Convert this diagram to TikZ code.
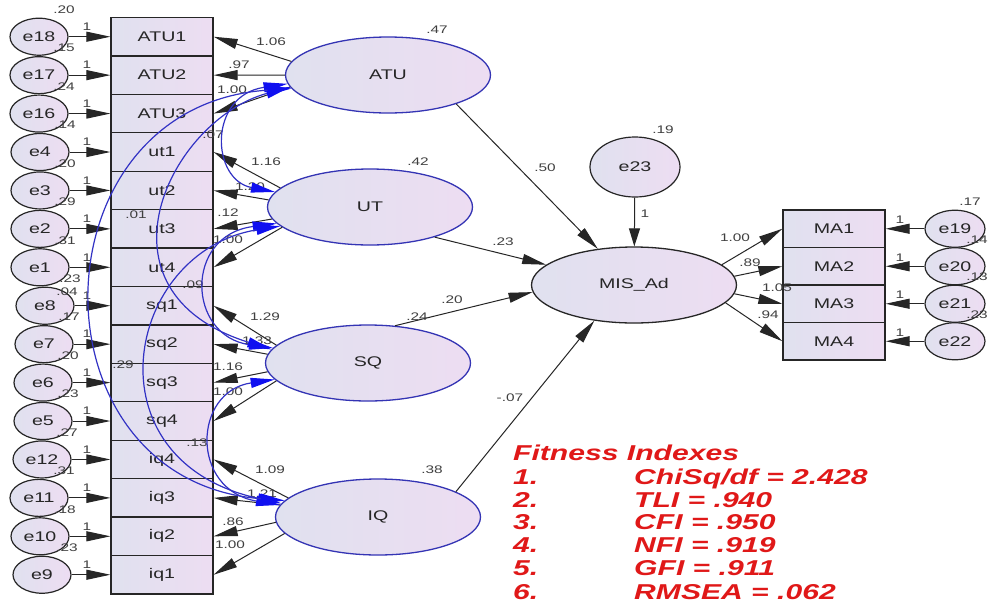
\documentclass[tikz,border=0pt]{standalone}
\usepackage{fontspec}
\setmainfont{Liberation Sans}[FakeStretch=1.4]
\usetikzlibrary{shapes.geometric,arrows.meta}
\definecolor{fillL}{HTML}{E0E1EF}
\definecolor{fillR}{HTML}{EDDDF2}
\definecolor{latblue}{HTML}{3434B4}
\definecolor{covblue}{HTML}{3232C4}
\definecolor{headblue}{HTML}{1010F0}
\definecolor{edge}{HTML}{262626}
\definecolor{numgray}{HTML}{404040}
\definecolor{fitred}{HTML}{E01818}
\begin{document}
\begin{tikzpicture}[x=1pt,y=-1pt,
  obs/.style={rectangle, draw=edge, line width=1.2pt, minimum width=102pt, minimum height=38.43pt,
    inner sep=0pt, left color=fillL, right color=fillR, text=edge, font=\fontsize{14}{16}\selectfont},
  lat/.style={ellipse, draw=latblue, line width=1.3pt, minimum width=205pt, minimum height=76pt,
    inner sep=0pt, left color=fillL, right color=fillR, text=edge, font=\fontsize{14}{16}\selectfont},
  err/.style={ellipse, draw=edge, line width=1.2pt, minimum width=58pt, minimum height=37pt,
    inner sep=0pt, left color=fillL, right color=fillR, text=edge, font=\fontsize{14}{16}\selectfont},
  load/.style={draw=edge, line width=1pt, -{Triangle[length=24pt,width=10pt]}},
  errarr/.style={draw=edge, line width=1pt, -{Triangle[length=24pt,width=10pt]}},
  cov/.style={draw=covblue, line width=1.2pt,
    {Triangle[length=24pt,width=10pt,color=headblue]}-{Triangle[length=24pt,width=10pt,color=headblue]}},
  num/.style={inner sep=0pt, text=numgray, font=\fontsize{11}{12}\selectfont},
  fit/.style={inner sep=0pt, anchor=base west, text=fitred,
    font=\bfseries\itshape\fontsize{21.5}{24}\selectfont}]

\fill[white] (0,0) rectangle (989,611);
\useasboundingbox (0,0) rectangle (989,611);

% indicators of the four exogenous factors, with their error terms
\foreach \bn/\en/\vr/\ri/\ex in {ATU1/e18/.20/0/39, ATU2/e17/.15/1/39, ATU3/e16/.24/2/39,
    ut1/e4/.14/3/40, ut2/e3/.20/4/40, ut3/e2/.29/5/40, ut4/e1/.31/6/40,
    sq1/e8/.23/7/45, sq2/e7/.17/8/44, sq3/e6/.20/9/43, sq4/e5/.23/10/43,
    iq4/e12/.27/11/42, iq3/e11/.31/12/39, iq2/e10/.18/13/40, iq1/e9/.23/14/42}{
  \pgfmathsetmacro\ry{17.5+38.43*(\ri+0.5)}
  \node[obs] (\bn) at (162,\ry) {\bn};
  \node[err] (\en) at (\ex,\ry) {\en};
  \draw[errarr] (\en) -- (\bn.west);
  \node[num] (w\en) at (87,\ry-10) {1};
  \node[num] (v\en) at (\ex+25,\ry-27) {\vr};
}

% indicators of the outcome factor
\foreach \bn/\en/\vr/\ri/\vx in {MA1/e19/.17/0/970, MA2/e20/.14/1/977, MA3/e21/.13/2/977, MA4/e22/.23/3/977}{
  \pgfmathsetmacro\ry{210+37.5*(\ri+0.5)}
  \node[obs, minimum height=37.5pt] (\bn) at (834,\ry) {\bn};
  \node[err, minimum width=60pt] (\en) at (955,\ry) {\en};
  \draw[errarr] (\en) -- (\bn.east);
  \node[num] (w\en) at (900,\ry-9) {1};
  \node[num] (v\en) at (\vx,\ry-27) {\vr};
}

% latent factors
\node[lat] (ATU) at (388,75) {ATU};
\node[lat] (UT) at (370,207) {UT};
\node[lat] (SQ) at (368,363) {SQ};
\node[lat] (IQ) at (378,517) {IQ};
\node[lat, draw=edge] (MIS) at (634,285) {MIS\_Ad};
\node[err, minimum width=90pt, minimum height=60pt] (e23) at (635,167) {e23};

% factor loadings
\draw[load] (ATU.172) -- (ATU1.east);
\draw[load] (ATU.180) -- (ATU2.east);
\draw[load] (ATU.187) -- (ATU3.east);
\draw[load] (UT.168) -- (ut1.east);
\draw[load] (UT.176) -- (ut2.east);
\draw[load] (UT.187) -- (ut3.east);
\draw[load] (UT.193) -- (ut4.east);
\draw[load] (SQ.169) -- (sq1.east);
\draw[load] (SQ.175) -- (sq2.east);
\draw[load] (SQ.185) -- (sq3.east);
\draw[load] (SQ.191) -- (sq4.east);
\draw[load] (IQ.168) -- (iq4.east);
\draw[load] (IQ.173) -- (iq3.east);
\draw[load] (IQ.183) -- (iq2.east);
\draw[load] (IQ.190) -- (iq1.east);
\draw[load] (MIS.13) -- (MA1.west);
\draw[load] (MIS.5) -- (MA2.west);
\draw[load] (MIS.355) -- (MA3.west);
\draw[load] (MIS.349) -- (MA4.west);

% structural paths
\draw[load] (ATU.337) -- (MIS.135);
\draw[load] (UT.335) -- (MIS.167);
\draw[load] (SQ.54) -- (MIS.184);
\draw[load] (IQ.18) -- (MIS.222);
\draw[load, -{Triangle[length=18pt,width=11pt]}] (e23) -- (MIS);

% estimates
\foreach \x/\y/\t [count=\k] in {271/42/1.06, 239/65/.97, 232/90/1.00,
    266/162/1.16, 250/187/1.20, 228/213/.12, 228/240/1.00,
    265/317/1.29, 257/341/1.33, 228/367/1.16, 228/392/1.00,
    270/470/1.09, 262/494/1.21, 233/522/.86, 230/545/1.00,
    213/135/.07, 136/215/.01, 193/285/.09, 123/365/.29, 197/443/.13, 67/292/.04,
    437/30/.47, 418/162/.42, 417/317/.24, 432/470/.38, 663/130/.19,
    545/168/.50, 503/242/.23, 452/300/.20, 510/398/-.07, 645/214/1,
    735/238/1.00, 750/263/.89, 777/288/1.05, 768/315/.94}{
  \node[num] (est\k) at (\x,\y) {\t};
}

% covariances between the exogenous factors
\draw[cov] (ATU.185) .. controls +(-80,12) and +(-64,-12) .. (UT.171);
\draw[cov] (UT.190) .. controls +(-93,12) and +(-86,-12) .. (SQ.171);
\draw[cov] (SQ.190) .. controls +(-82,12) and +(-90,-15) .. (IQ.173);
\draw[cov] (ATU.187) .. controls +(-120,33) and +(-186,-58) .. (SQ.172);
\draw[cov] (UT.192) .. controls +(-155,25) and +(-196,-43) .. (IQ.172);
\draw[cov] (ATU.188) .. controls +(-260,17) and +(-258,-20) .. (IQ.170);

% fit indices
\node[fit] (fitT) at (513,460.5) {Fitness Indexes};
\node[fit] (n1) at (513,484.5) {1.};
\node[fit] (n2) at (513,507.5) {2.};
\node[fit] (n3) at (513,529.5) {3.};
\node[fit] (n4) at (513,552.5) {4.};
\node[fit] (n5) at (513,575.5) {5.};
\node[fit] (n6) at (513,599.5) {6.};
\node[fit] (f1) at (634,484.5) {ChiSq/df = 2.428};
\node[fit] (f2) at (634,507.5) {TLI = .940};
\node[fit] (f3) at (634,529.5) {CFI = .950};
\node[fit] (f4) at (634,552.5) {NFI = .919};
\node[fit] (f5) at (634,575.5) {GFI = .911};
\node[fit] (f6) at (634,599.5) {RMSEA = .062};
\end{tikzpicture}
\end{document}
